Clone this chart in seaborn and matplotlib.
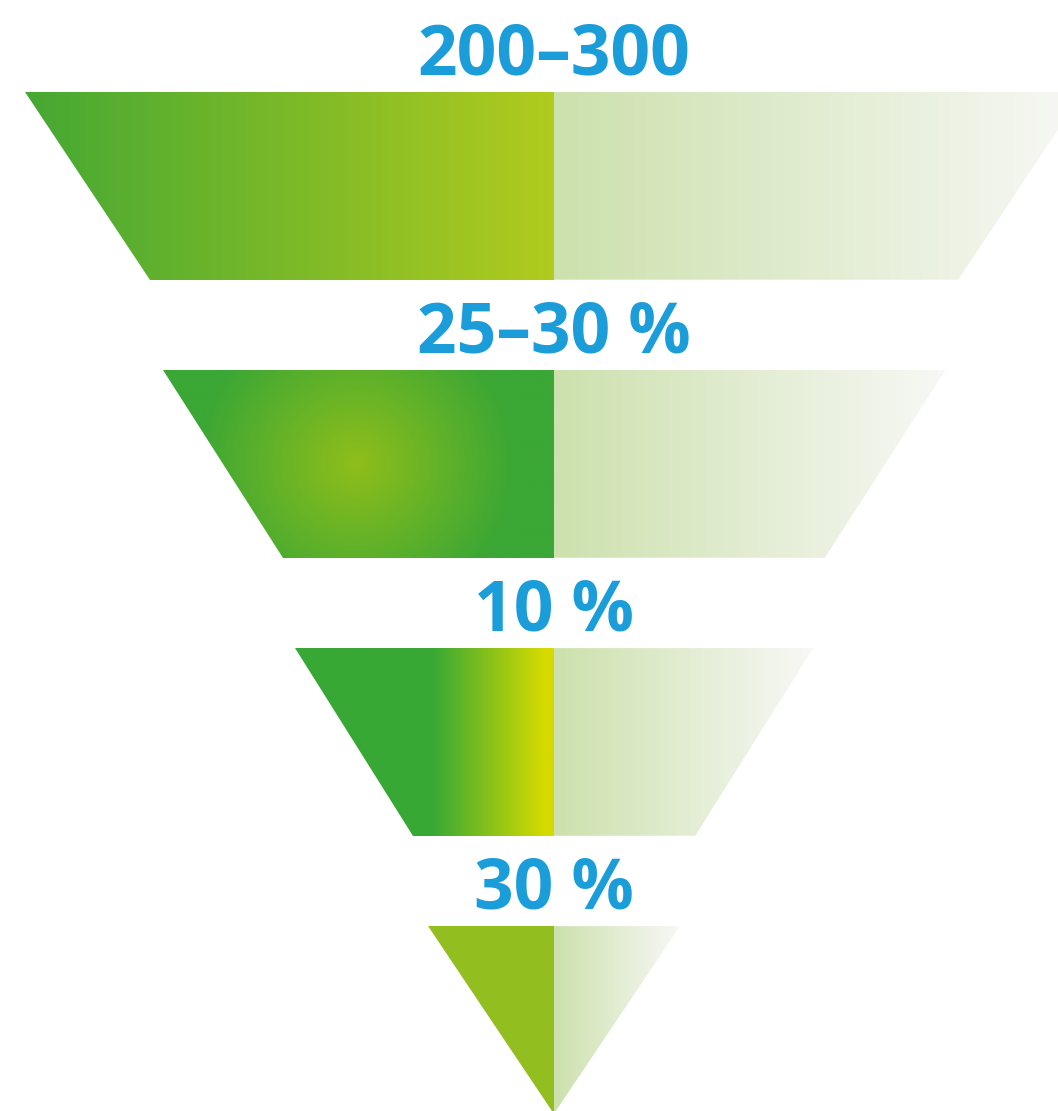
import numpy as np
import seaborn as sns
import matplotlib.pyplot as plt
from matplotlib.patches import Polygon
from matplotlib.colors import to_rgb

# funnel stages, top to bottom
stages = ["200–300", "25–30 %", "10 %", "30 %"]
top_width = [1.00, 0.74, 0.49, 0.238]     # half width at top of each stage
bottom_width = [0.764, 0.512, 0.267, 0.0]  # half width at bottom

sns.set_theme(style="white")
plt.rcParams['font.family'] = ['Open Sans', 'DejaVu Sans']

fig = plt.figure(figsize=(10.58, 11.11), dpi=100)
ax = fig.add_axes([0, 0, 1, 1])
ax.set_xlim(-554 / 529, 504 / 529)
ax.set_ylim(3.665, -0.331)
ax.axis("off")

H = 0.675  # stage height


def lin(c1, c2, t):
    c1, c2 = np.array(to_rgb(c1)), np.array(to_rgb(c2))
    t = np.clip(t, 0, 1)[..., None]
    return c1 * (1 - t) + c2 * t


def fill(poly, img, extent):
    patch = Polygon(poly, closed=True, facecolor="none", edgecolor="none")
    ax.add_patch(patch)
    im = ax.imshow(img, extent=extent, aspect="auto", interpolation="bilinear",
                   origin="upper", zorder=2)
    im.set_clip_path(patch)


for i, (lab, tw, bw) in enumerate(zip(stages, top_width, bottom_width)):
    top, bot = i, i + H
    xs = np.linspace(-tw, 0, 400)
    ys = np.linspace(top, bot, 200)
    X, Y = np.meshgrid(xs, ys)

    # left (strong) half
    if i == 0:
        img = lin("#45a833", "#b1cb1e", (X + tw) / tw)
    elif i == 1:
        cx, cy = -0.376, top + 0.335
        r = np.sqrt(((X - cx) / 0.30) ** 2 + ((Y - cy) / 0.56) ** 2)
        img = lin("#8fbe1a", "#3ba735", r)
    elif i == 2:
        img = lin("#38a835", "#d5da00", (X + 0.23) / 0.21)
    else:
        img = np.broadcast_to(np.array(to_rgb("#93be20")), X.shape + (3,)).copy()
    fill([(-tw, top), (0, top), (0, bot), (-bw, bot)], img, (-tw, 0, bot, top))

    # right (pale) half
    xr = np.linspace(0, tw, 400)
    Xr, _ = np.meshgrid(xr, ys)
    img_r = lin("#cce1ad", "#f8f8f6", Xr / tw)
    fill([(0, top), (tw, top), (bw, bot), (0, bot)], img_r, (0, tw, bot, top))

    ax.text(0.0, top - 0.062, lab, ha="center", va="baseline", fontsize=50,
            fontweight="bold", color="#1b9dd9", zorder=3)

fig.savefig("out.png", dpi=100)
